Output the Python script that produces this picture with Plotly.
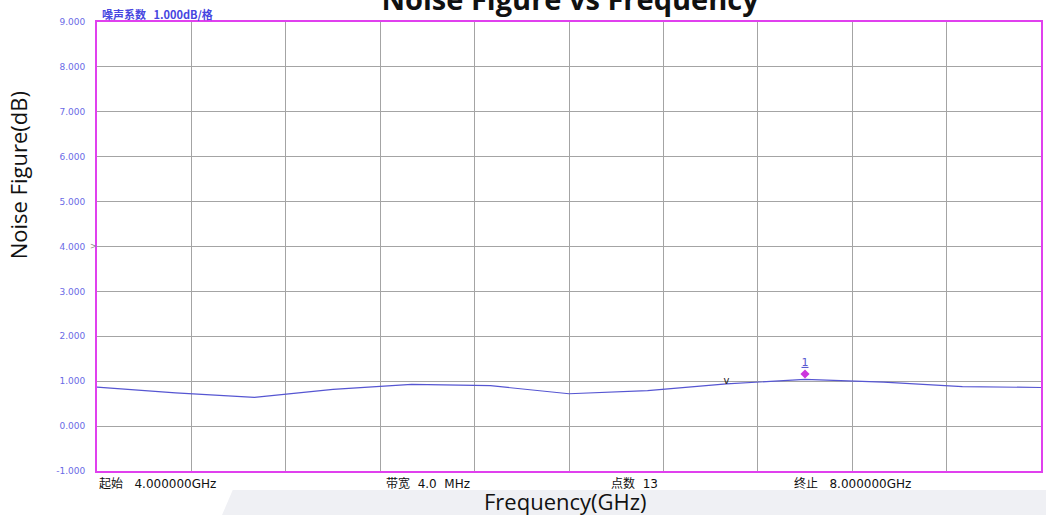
import plotly.graph_objects as go

# ---- data ----
freq_ghz = [4.0, 4.333, 4.667, 5.0, 5.333, 5.667, 6.0, 6.333, 6.667, 7.0, 7.333, 7.667, 8.0]
noise_figure_db = [0.87, 0.74, 0.64, 0.82, 0.93, 0.90, 0.72, 0.79, 0.94, 1.04, 0.98, 0.88, 0.86]

marker1_freq = [7.0]
marker1_nf = [1.16]
marker1_label = ["<u>1</u>"]

ref_freq = [6.667]
ref_nf = [1.0]
ref_label = ["v"]

y_ticks = [-1, 0, 1, 2, 3, 4, 5, 6, 7, 8, 9]
y_tick_labels = ["-1.000", "0.000", "1.000", "2.000", "3.000", "4.000",
                 "5.000", "6.000", "7.000", "8.000", "9.000"]

header_text = "<b>噪声系数   1.000dB/格</b>"
footer_labels = ["起始   4.000000GHz", "带宽  4.0  MHz", "点数  13", "终止   8.000000GHz"]
footer_x = [0.0, 0.3044, 0.5423, 0.7357]

title_text = "Noise Figure vs Frequency"
x_title = "Frequency(GHz)"
y_title = "Noise Figure(dB)"

# ---- figure ----
fig = go.Figure()

fig.add_trace(go.Scatter(
    x=freq_ghz, y=noise_figure_db, mode="lines",
    line=dict(color="#5656d2", width=1.2), showlegend=False, hoverinfo="x+y"))

fig.add_trace(go.Scatter(
    x=marker1_freq, y=marker1_nf, mode="markers+text", text=marker1_label,
    textposition="top center",
    textfont=dict(family="DejaVu Sans", size=11, color="#5a5ad0"),
    marker=dict(symbol="diamond", size=7, color="#cc33dd"),
    showlegend=False, cliponaxis=False))

fig.add_trace(go.Scatter(
    x=ref_freq, y=ref_nf, mode="text", text=ref_label,
    textposition="middle center",
    textfont=dict(family="DejaVu Sans", size=10, color="#222222"),
    showlegend=False, cliponaxis=False))

# grey decorative band at the bottom
shapes = [
    dict(type="path", xref="paper", yref="paper",
         path="M 0.1438,-0.0423 L 1.01,-0.0423 L 1.01,-0.12 L 0.128,-0.12 Z",
         fillcolor="#eff0f4", line=dict(width=0), layer="below"),
]

annotations = [
    dict(text=header_text, xref="paper", yref="paper", x=0.003, y=1.0178,
         xanchor="left", yanchor="middle", showarrow=False,
         font=dict(family="Noto Sans CJK SC", size=11, color="#4646e0")),
    dict(text=y_title, xref="paper", yref="paper", x=-0.0835, y=0.659,
         xanchor="center", yanchor="middle", textangle=-90, showarrow=False,
         font=dict(family="Open Sans", size=22, color="#111111")),
    dict(text=x_title, xref="paper", yref="paper", x=0.496, y=-0.066,
         xanchor="center", yanchor="middle", showarrow=False,
         font=dict(family="Open Sans", size=22, color="#111111")),
    dict(text=">", xref="paper", yref="y", x=-0.0035, y=4,
         xanchor="center", yanchor="middle", showarrow=False,
         font=dict(family="DejaVu Sans", size=8, color="#888888")),
]
for lab, xp in zip(footer_labels, footer_x):
    annotations.append(dict(
        text=lab, xref="paper", yref="paper", x=xp, y=-0.028,
        xanchor="left", yanchor="middle", showarrow=False,
        font=dict(family="DejaVu Sans, Noto Sans CJK SC", size=12, color="#111111")))

fig.update_layout(
    width=1046, height=515,
    margin=dict(l=97, r=3, t=22, b=44),
    paper_bgcolor="white", plot_bgcolor="white",
    title=dict(text="<b>" + title_text + "</b>", x=0.545, xanchor="center",
               y=1.0, yref="container", yanchor="middle",
               font=dict(family="Open Sans", size=29, color="#111111")),
    shapes=shapes, annotations=annotations,
    xaxis=dict(range=[4, 8], dtick=0.4, tick0=4, showticklabels=False,
               showgrid=True, gridcolor="#a4a4a4", gridwidth=1,
               zeroline=False, showline=True, linecolor="#e040ee",
               linewidth=2, mirror=True, ticks=""),
    yaxis=dict(range=[-1, 9], tickvals=y_ticks, ticktext=y_tick_labels,
               showgrid=True, gridcolor="#a4a4a4", gridwidth=1,
               zeroline=False, showline=True, linecolor="#e040ee",
               linewidth=2, mirror=True, ticks="", ticklabelstandoff=8,
               tickfont=dict(family="DejaVu Sans", size=9, color="#6a6ae6")),
)

fig.write_html(
    "out.html",
    config={"displayModeBar": False},
    post_script="document.body.style.margin='0';document.body.style.padding='0';"
                "document.body.style.overflow='hidden';")
